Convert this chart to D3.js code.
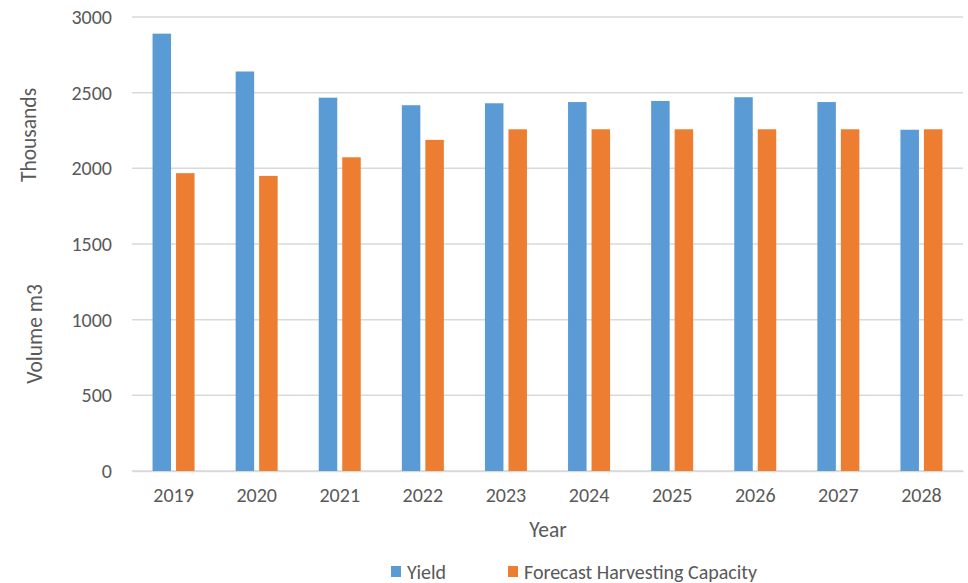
<!DOCTYPE html>
<html><head><meta charset="utf-8">
<script src="https://cdn.jsdelivr.net/npm/d3@7"></script>
<style>body{margin:0;background:#fff;} text{font-family:Carlito,"Liberation Sans",Arial,sans-serif;fill:#595959;}</style>
</head><body>
<svg id="c" width="968" height="583"></svg>
<script>
const years = ["2019","2020","2021","2022","2023","2024","2025","2026","2027","2028"];
const yieldVals = [2890,2640,2467,2417,2430,2438,2445,2470,2438,2255];
const forecastVals = [1968,1950,2073,2188,2258,2258,2258,2258,2258,2258];
const seriesNames = ["Yield","Forecast Harvesting Capacity"];
const colors = ["#5B9BD5","#ED7D31"];
const yTicks = [0,500,1000,1500,2000,2500,3000];

(function(){
const svg = d3.select("#c");
const pLeft = 132, pRight = 963, pTop = 17, pBottom = 471;
const x = d3.scaleBand().domain(years).range([pLeft, pRight]).padding(0);
const y = d3.scaleLinear().domain([0,3000]).range([pBottom, pTop]);

svg.append("g").selectAll("line").data(yTicks).join("line")
  .attr("x1", pLeft).attr("x2", pRight)
  .attr("y1", d=>y(d)).attr("y2", d=>y(d))
  .attr("stroke", "#d9d9d9").attr("stroke-width", 1.5);

const yAxis = d3.axisLeft(y).tickValues(yTicks).tickFormat(d3.format("d")).tickSize(0).tickPadding(20);
const gy = svg.append("g").attr("transform", `translate(${pLeft},0)`).call(yAxis);
gy.attr("font-family", null);
gy.select(".domain").remove();
gy.selectAll("text").attr("font-size", 20).style("fill","#595959");

const xAxis = d3.axisBottom(x).tickSize(0).tickPadding(17);
const gx = svg.append("g").attr("transform", `translate(0,${pBottom})`).call(xAxis);
gx.attr("font-family", null);
gx.select(".domain").attr("stroke","#d9d9d9").attr("stroke-width",1.5);
gx.selectAll("text").attr("font-size", 20).style("fill","#595959");

const barW = 18.5, gap = 5;
const data = years.map((yr,i)=>({yr, vals:[yieldVals[i], forecastVals[i]]}));
const g = svg.append("g");
data.forEach(d=>{
  const cx = x(d.yr) + x.bandwidth()/2;
  d.vals.forEach((v,j)=>{
    const x0 = j===0 ? cx - gap/2 - barW : cx + gap/2;
    g.append("rect").attr("x", x0).attr("width", barW)
      .attr("y", y(v)).attr("height", y(0)-y(v))
      .attr("fill", colors[j]);
  });
});

svg.append("text").attr("transform","translate(29,135) rotate(-90)")
  .attr("text-anchor","middle").attr("dominant-baseline","central")
  .attr("font-size",21.5).text("Thousands");
svg.append("text").attr("transform","translate(35,334) rotate(-90)")
  .attr("text-anchor","middle").attr("dominant-baseline","central")
  .attr("font-size",21.5).text("Volume m3");
svg.append("text").attr("x",548).attr("y",530)
  .attr("text-anchor","middle").attr("dominant-baseline","central")
  .attr("font-size",21.5).text("Year");

const legX = [391, 508];
seriesNames.forEach((n,i)=>{
  svg.append("rect").attr("x",legX[i]).attr("y",566).attr("width",10).attr("height",11).attr("fill",colors[i]);
  svg.append("text").attr("x",legX[i]+16).attr("y",572).attr("dominant-baseline","central")
    .attr("font-size",20).text(n);
});
})();
</script>
</body></html>
